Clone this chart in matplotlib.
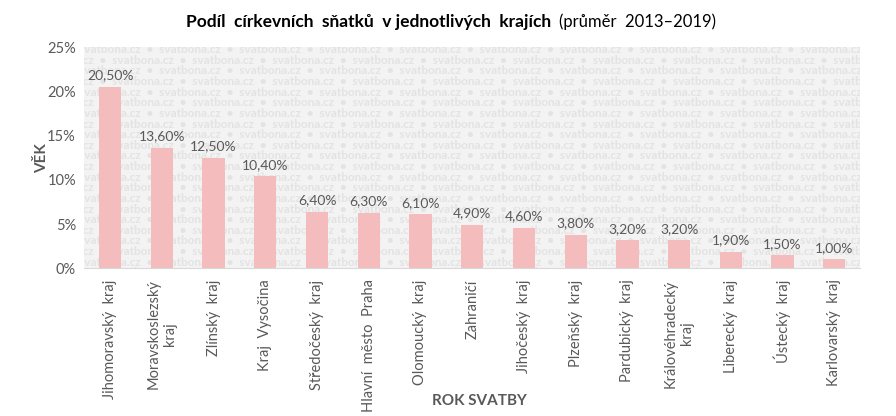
import matplotlib
matplotlib.use("Agg")
import matplotlib.pyplot as plt
import numpy as np

categories = ["Jihomoravský  kraj", "Moravskoslezský\nkraj", "Zlínský  kraj", "Kraj  Vysočina",
              "Středočeský  kraj", "Hlavní  město  Praha", "Olomoucký  kraj", "Zahraničí",
              "Jihočeský  kraj", "Plzeňský  kraj", "Pardubický  kraj", "Královéhradecký\nkraj",
              "Liberecký  kraj", "Ústecký  kraj", "Karlovarský  kraj"]
values = [20.5, 13.6, 12.5, 10.4, 6.4, 6.3, 6.1, 4.9, 4.6, 3.8, 3.2, 3.2, 1.9, 1.5, 1.0]
yticks = [0, 5, 10, 15, 20, 25]

plt.rcParams['font.family'] = ['Lato', 'DejaVu Sans']
gray = '#595959'

fig = plt.figure(figsize=(8.96, 4.16), dpi=100)
ax = fig.add_axes([0.094, 0.355, 0.866, 0.532])
ax.set_facecolor('#f3f3f3')

# watermark
for i in range(22):
    y = 25 - 0.3 - i * 1.2
    off = 0 if i % 2 == 0 else -0.9
    line = "  •  ".join(["svatbona.cz"] * 14)
    ax.text(-0.6 + off, y, line, fontsize=8.5, color='#e3e3e3', fontweight='bold',
            va='center', ha='left', clip_on=True, zorder=0)

x = np.arange(len(categories))
ax.bar(x, values, width=0.43, color='#f4bcbc', zorder=2)
for xi, v in zip(x, values):
    ax.text(xi, v + 0.6, f"{v:.2f}%".replace('.', ','), ha='center', va='bottom',
            fontsize=10, color=gray, zorder=3)

ax.set_xlim(-0.5, len(categories) - 0.5)
ax.set_ylim(0, 25)
ax.set_yticks(yticks)
ax.set_yticklabels([f"{t}%" for t in yticks], fontsize=10.5, color=gray)
ax.set_xticks(x)
ax.set_xticklabels(categories, rotation=90, fontsize=10.5, color=gray, ha='center',
                   va='top', multialignment='center')
ax.tick_params(axis='both', length=0, pad=6)
ax.tick_params(axis='x', pad=8)
for s in ['top', 'right', 'left']:
    ax.spines[s].set_visible(False)
ax.spines['bottom'].set_color('#d9d9d9')

fig.text(0.047, 0.62, "VĚK", rotation=90, fontsize=11, fontweight='bold', color=gray,
         ha='center', va='center')
fig.text(0.535, 0.035, "ROK SVATBY", fontsize=11, fontweight='bold', color=gray,
         ha='center', va='center')

t1 = fig.text(0.208, 0.948, "Podíl  církevních  sňatků  v jednotlivých  krajích", fontsize=12.5,
              fontweight='bold', color='black', ha='left', va='center')
fig.canvas.draw()
bb = t1.get_window_extent().transformed(fig.transFigure.inverted())
fig.text(bb.x1 + 0.008, 0.948, "(průměr  2013–2019)", fontsize=12, color='black',
         ha='left', va='center')

fig.savefig("out.png", dpi=100)
